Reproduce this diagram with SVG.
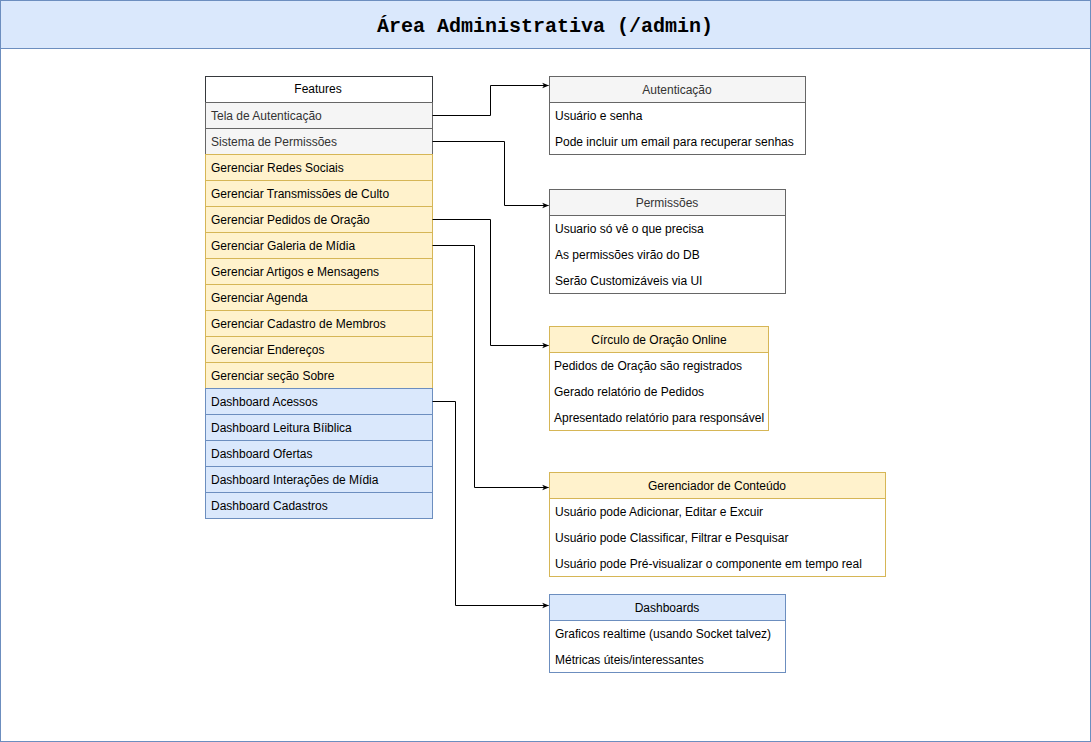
<svg xmlns="http://www.w3.org/2000/svg" width="1091" height="742" viewBox="0 0 1091 742">
<defs>
<style>
.t{font-family:"Liberation Sans",Arial,Helvetica,sans-serif;font-size:12px;fill:#000;dominant-baseline:central}
.c{text-anchor:middle}
.g{fill:#333333}
.gray{fill:#f5f5f5;stroke:#666666;stroke-width:1}
.yel{fill:#fff2cc;stroke:#d6b656;stroke-width:1}
.blu{fill:#dae8fc;stroke:#6c8ebf;stroke-width:1}
.wg{fill:#ffffff;stroke:#666666;stroke-width:1}
.wy{fill:#ffffff;stroke:#d6b656;stroke-width:1}
.wb{fill:#ffffff;stroke:#6c8ebf;stroke-width:1}
.edge{fill:none;stroke:#000;stroke-width:1;marker-end:url(#arr)}
</style>
<marker id="arr" viewBox="0 0 10 10" refX="9" refY="5" markerWidth="7" markerHeight="7" markerUnits="userSpaceOnUse" orient="auto">
<path d="M0,1 L10,5 L0,9 L2.5,5 Z" fill="#000"/>
</marker>
</defs>
<g id="container">
<rect x="0.5" y="0.5" width="1090" height="741" fill="#ffffff" stroke="#6c8ebf"/>
<rect x="0.5" y="0.5" width="1090" height="48" fill="#dae8fc" stroke="#6c8ebf"/>
<text x="545" y="26" text-anchor="middle" dominant-baseline="central" font-family="'Liberation Mono','Courier New',monospace" font-weight="bold" font-size="20">Área Administrativa (/admin)</text>
</g>
<g id="features">
<rect x="205.5" y="76.5" width="227" height="442" fill="#ffffff" stroke="#36393d"/>
<text class="t c" x="318" y="89">Features</text>
<rect class="gray" x="205.5" y="102.5" width="227" height="26"/>
<text class="t g" x="211" y="115.5">Tela de Autenticação</text>
<rect class="gray" x="205.5" y="128.5" width="227" height="26"/>
<text class="t g" x="211" y="141.5">Sistema de Permissões</text>
<rect class="yel" x="205.5" y="154.5" width="227" height="26"/>
<text class="t" x="211" y="167.5">Gerenciar Redes Sociais</text>
<rect class="yel" x="205.5" y="180.5" width="227" height="26"/>
<text class="t" x="211" y="193.5">Gerenciar Transmissões de Culto</text>
<rect class="yel" x="205.5" y="206.5" width="227" height="26"/>
<text class="t" x="211" y="219.5">Gerenciar Pedidos de Oração</text>
<rect class="yel" x="205.5" y="232.5" width="227" height="26"/>
<text class="t" x="211" y="245.5">Gerenciar Galeria de Mídia</text>
<rect class="yel" x="205.5" y="258.5" width="227" height="26"/>
<text class="t" x="211" y="271.5">Gerenciar Artigos e Mensagens</text>
<rect class="yel" x="205.5" y="284.5" width="227" height="26"/>
<text class="t" x="211" y="297.5">Gerenciar Agenda</text>
<rect class="yel" x="205.5" y="310.5" width="227" height="26"/>
<text class="t" x="211" y="323.5">Gerenciar Cadastro de Membros</text>
<rect class="yel" x="205.5" y="336.5" width="227" height="26"/>
<text class="t" x="211" y="349.5">Gerenciar Endereços</text>
<rect class="yel" x="205.5" y="362.5" width="227" height="26"/>
<text class="t" x="211" y="375.5">Gerenciar seção Sobre</text>
<rect class="blu" x="205.5" y="388.5" width="227" height="26"/>
<text class="t" x="211" y="401.5">Dashboard Acessos</text>
<rect class="blu" x="205.5" y="414.5" width="227" height="26"/>
<text class="t" x="211" y="427.5">Dashboard Leitura Bíiblica</text>
<rect class="blu" x="205.5" y="440.5" width="227" height="26"/>
<text class="t" x="211" y="453.5">Dashboard Ofertas</text>
<rect class="blu" x="205.5" y="466.5" width="227" height="26"/>
<text class="t" x="211" y="479.5">Dashboard Interações de Mídia</text>
<rect class="blu" x="205.5" y="492.5" width="227" height="26"/>
<text class="t" x="211" y="505.5">Dashboard Cadastros</text>
</g>
<g id="autenticacao">
<rect class="wg" x="549.5" y="76.5" width="256" height="78"/>
<rect class="gray" x="549.5" y="76.5" width="256" height="26"/>
<text class="t c g" x="677" y="89.5">Autenticação</text>
<text class="t" x="555" y="115.5">Usuário e senha</text>
<text class="t" x="555" y="142">Pode incluir um email para recuperar senhas</text>
</g>
<g id="permissoes">
<rect class="wg" x="549.5" y="189.5" width="236" height="104"/>
<rect class="gray" x="549.5" y="189.5" width="236" height="26"/>
<text class="t c g" x="667" y="202.5">Permissões</text>
<text class="t" x="555" y="228.5">Usuario só vê o que precisa</text>
<text class="t" x="555" y="254.5">As permissões virão do DB</text>
<text class="t" x="555" y="280.5">Serão Customizáveis via UI</text>
</g>
<g id="circulo">
<rect class="wy" x="549.5" y="326.5" width="219" height="104"/>
<rect class="yel" x="549.5" y="326.5" width="219" height="26"/>
<text class="t c" x="659" y="339.5">Círculo de Oração Online</text>
<text class="t" x="554" y="365.5">Pedidos de Oração são registrados</text>
<text class="t" x="554" y="391.5">Gerado relatório de Pedidos</text>
<text class="t" x="554" y="417.5">Apresentado relatório para responsável</text>
</g>
<g id="gerenciador">
<rect class="wy" x="549.5" y="472.5" width="336" height="104"/>
<rect class="yel" x="549.5" y="472.5" width="336" height="26"/>
<text class="t c" x="717" y="485.5">Gerenciador de Conteúdo</text>
<text class="t" x="555" y="511.5">Usuário pode Adicionar, Editar e Excuir</text>
<text class="t" x="555" y="537.5">Usuário pode Classificar, Filtrar e Pesquisar</text>
<text class="t" x="555" y="563.5">Usuário pode Pré-visualizar o componente em tempo real</text>
</g>
<g id="dashboards">
<rect class="wb" x="549.5" y="594.5" width="236" height="78"/>
<rect class="blu" x="549.5" y="594.5" width="236" height="26"/>
<text class="t c" x="667" y="607.5">Dashboards</text>
<text class="t" x="555" y="633.5">Graficos realtime (usando Socket talvez)</text>
<text class="t" x="555" y="659.5">Métricas úteis/interessantes</text>
</g>
<g id="connectors">
<path class="edge" d="M432.5,115.5 H490.5 V85.5 H548.5"/>
<path class="edge" d="M432.5,141.5 H504.5 V205.5 H548.5"/>
<path class="edge" d="M432.5,219.5 H490.5 V345.5 H548.5"/>
<path class="edge" d="M432.5,245.5 H474.5 V487.5 H548.5"/>
<path class="edge" d="M432.5,401.5 H455.5 V605.5 H548.5"/>
</g>
</svg>
